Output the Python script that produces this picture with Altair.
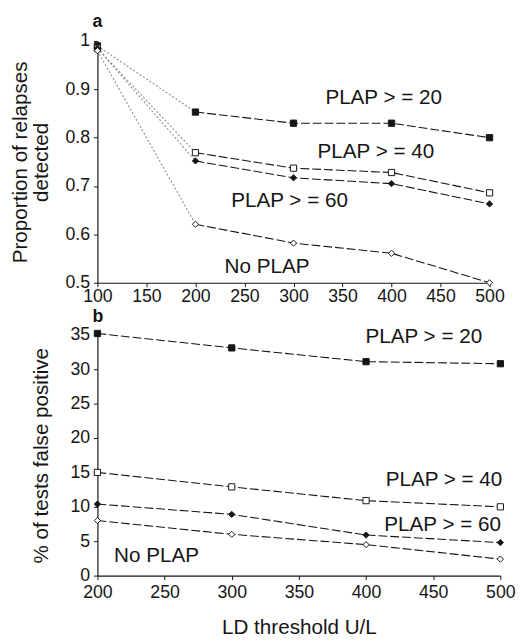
import altair as alt
import pandas as pd

series = ["PLAP >= 20", "PLAP >= 40", "PLAP >= 60", "No PLAP"]

# Panel a: proportion of relapses detected
thr_a = [100, 200, 300, 400, 500]
a_20 = [0.990, 0.853, 0.830, 0.830, 0.800]
a_40 = [0.985, 0.769, 0.737, 0.728, 0.686]
a_60 = [0.985, 0.752, 0.717, 0.705, 0.663]
a_no = [0.980, 0.621, 0.582, 0.561, 0.500]

# Panel b: % of tests false positive
thr_b = [200, 300, 400, 500]
b_20 = [35.2, 33.1, 31.1, 30.8]
b_40 = [15.0, 12.9, 10.9, 10.0]
b_60 = [10.4, 8.9, 5.9, 4.8]
b_no = [8.0, 6.0, 4.5, 2.4]

# Annotation labels (data coordinates)
labels = ["PLAP > = 20", "PLAP > = 40", "PLAP > = 60", "No PLAP"]
lab_a_x = [392, 384, 296, 273]
lab_a_y = [0.882, 0.771, 0.669, 0.533]
lab_b_x = [443, 458, 457, 244]
lab_b_y = [34.6, 13.9, 7.3, 2.8]

FONT = "Liberation Sans"
INK = "#151515"


def long_df(thr, vals):
    rows = []
    for s, v in zip(series, vals):
        for t, y in zip(thr, v):
            rows.append({"thr": t, "val": y, "series": s})
    return pd.DataFrame(rows)


df_a = long_df(thr_a, [a_20, a_40, a_60, a_no])
df_b = long_df(thr_b, [b_20, b_40, b_60, b_no])
lab_a = pd.DataFrame({"label": labels, "thr": lab_a_x, "val": lab_a_y})
lab_b = pd.DataFrame({"label": labels, "thr": lab_b_x, "val": lab_b_y})

shape_scale = alt.Scale(domain=series, range=["square", "square", "diamond", "diamond"])
fill_scale = alt.Scale(domain=series, range=[INK, "white", INK, "white"])


def panel(df, lab, xdom, xvals, ydom, yvals, ytitle, xtitle, yfmt, w, h, tag,
          first_dotted, ytp, toff, xlp):
    x_enc = alt.X("thr:Q", scale=alt.Scale(domain=xdom, nice=False, zero=False, padding=0),
                  axis=alt.Axis(values=xvals, title=xtitle, format="d", tickSize=4,
                                labelPadding=xlp, titlePadding=16, labelFlush=False))
    y_enc = alt.Y("val:Q", scale=alt.Scale(domain=ydom, nice=False, zero=False, padding=0),
                  axis=alt.Axis(values=yvals, title=ytitle, format=yfmt, tickSize=4,
                                labelPadding=4, titlePadding=ytp, labelFlush=False))
    base = alt.Chart(df)
    layers = []
    if first_dotted:
        layers.append(
            base.transform_filter("datum.thr <= 200").mark_line(
                color="#8a8a8a", strokeDash=[2, 2], strokeWidth=1.1
            ).encode(x=x_enc, y=y_enc, detail="series:N")
        )
        main = base.transform_filter("datum.thr >= 200")
    else:
        main = base
    layers.append(
        main.mark_line(color=INK, strokeDash=[9, 3], strokeWidth=1.1).encode(
            x=x_enc, y=y_enc, detail="series:N")
    )
    layers.append(
        base.mark_point(filled=True, stroke=INK, strokeWidth=1, size=40, opacity=1).encode(
            x=x_enc, y=y_enc,
            shape=alt.Shape("series:N", scale=shape_scale, legend=None),
            fill=alt.Fill("series:N", scale=fill_scale, legend=None),
        )
    )
    layers.append(
        alt.Chart(lab).mark_text(font=FONT, fontSize=21, color=INK, align="center",
                                 baseline="middle").encode(
            x=x_enc, y=y_enc, text="label:N")
    )
    return alt.layer(*layers).properties(
        width=w, height=h,
        title=alt.TitleParams(tag, anchor="start", frame="group", font=FONT, fontSize=18,
                              fontWeight="bold", color=INK, offset=toff, dx=-5),
    )


top = panel(df_a, lab_a, [100, 500], list(range(100, 501, 50)), [0.5, 1.0],
            [0.5, 0.6, 0.7, 0.8, 0.9, 1.0], ["Proportion of relapses", "detected"], None,
            "~g", 399, 246, "a", True, 14, 1, 1)
bottom = panel(df_b, lab_b, [200, 500], list(range(200, 501, 50)), [0, 35],
               list(range(0, 36, 5)), "% of tests false positive", "LD threshold U/L",
               "d", 410, 245, "b", False, 19, 0, 4)

chart = alt.vconcat(top, bottom, spacing=3).properties(
    padding={"left": 1, "top": 0, "right": 5, "bottom": 0}
).configure_view(stroke=None).configure_axis(
    grid=False, domainColor=INK, tickColor=INK, labelColor=INK, titleColor=INK,
    labelFont=FONT, titleFont=FONT, labelFontSize=18, titleFontSize=21,
    titleFontWeight="normal", titleLineHeight=21, domainWidth=1.2
)

chart.save("out.html", embed_options={"renderer": "svg", "actions": False})
